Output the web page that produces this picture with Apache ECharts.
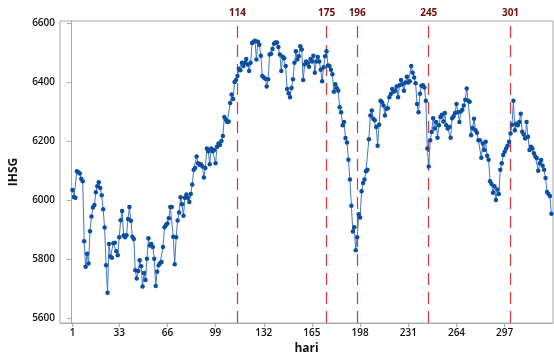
<!DOCTYPE html>
<html>
<head>
<meta charset="utf-8">
<script src="https://cdn.jsdelivr.net/npm/echarts@6/dist/echarts.min.js"></script>
<style>
  html, body { margin: 0; padding: 0; background: #fff; }
  #chart { width: 554px; height: 360px; }
</style>
</head>
<body>
<div id="chart"></div>
<script>
// Daily IHSG closing values, day 1 .. 329
const ihsgDays1to50 = [
  6034, 6010, 6007, 6097, 6094, 6090, 6072, 6063, 5860, 5773,
  5817, 5784, 5894, 5944, 5974, 5983, 6026, 6046, 6060, 6040,
  6016, 5968, 5906, 5778, 5685, 5850, 5808, 5804, 5853, 5855,
  5826, 5812, 5873, 5931, 5962, 5879, 5873, 5880, 5935, 5976,
  5929, 5875, 5867, 5761, 5733, 5759, 5795, 5775, 5706, 5752
];
const ihsgDays51to100 = [
  5728, 5800, 5870, 5845, 5850, 5840, 5800, 5708, 5756, 5778,
  5786, 5789, 5840, 5907, 5915, 5920, 5938, 5976, 5976, 5875,
  5782, 5873, 5930, 5957, 6009, 5985, 5946, 6007, 6018, 6007,
  5993, 6020, 6052, 6102, 6108, 6147, 6124, 6119, 6121, 6113,
  6076, 6108, 6174, 6165, 6121, 6174, 6165, 6169, 6124, 6180
];
const ihsgDays101to150 = [
  6191, 6186, 6200, 6217, 6281, 6273, 6264, 6266, 6329, 6358,
  6342, 6400, 6407, 6420, 6445, 6440, 6465, 6454, 6465, 6478,
  6459, 6437, 6465, 6532, 6537, 6540, 6476, 6537, 6526, 6489,
  6420, 6415, 6411, 6385, 6409, 6493, 6496, 6512, 6530, 6534,
  6534, 6519, 6493, 6437, 6486, 6481, 6454, 6376, 6362, 6348
];
const ihsgDays151to200 = [
  6380, 6409, 6465, 6504, 6476, 6487, 6521, 6510, 6407, 6459,
  6470, 6465, 6452, 6478, 6470, 6489, 6431, 6470, 6485, 6470,
  6442, 6403, 6450, 6487, 6504, 6456, 6454, 6442, 6426, 6367,
  6392, 6380, 6370, 6314, 6297, 6253, 6264, 6210, 6195, 6136,
  6069, 5980, 5893, 5907, 5829, 5873, 5951, 5940, 6029, 6057
];
const ihsgDays201to250 = [
  6069, 6097, 6102, 6206, 6286, 6303, 6275, 6270, 6247, 6184,
  6255, 6336, 6331, 6320, 6286, 6309, 6311, 6348, 6359, 6376,
  6367, 6370, 6385, 6348, 6389, 6407, 6392, 6370, 6398, 6418,
  6398, 6403, 6454, 6431, 6415, 6396, 6325, 6297, 6360, 6387,
  6389, 6381, 6336, 6174, 6113, 6202, 6230, 6277, 6242, 6264
];
const ihsgDays251to300 = [
  6211, 6253, 6281, 6289, 6266, 6295, 6253, 6242, 6247, 6211,
  6277, 6284, 6295, 6325, 6297, 6264, 6300, 6306, 6320, 6340,
  6378, 6336, 6333, 6219, 6244, 6275, 6236, 6228, 6202, 6202,
  6143, 6191, 6169, 6197, 6150, 6136, 6063, 6054, 6024, 6046,
  6000, 6035, 6020, 6102, 6124, 6152, 6163, 6174, 6184, 6197
];
const ihsgDays301to329 = [
  6225, 6255, 6336, 6236, 6258, 6253, 6264, 6292, 6231, 6222,
  6208, 6264, 6214, 6169, 6180, 6174, 6158, 6147, 6141, 6099,
  6124, 6135, 6116, 6102, 6074, 6027, 6020, 6013, 5953
];

// Days marked with vertical reference lines
const markedDays = [114, 175, 196, 245, 301];
// Axis tick positions
const dayTicks = [1, 33, 66, 99, 132, 165, 198, 231, 264, 297];
const ihsgTicks = [5600, 5800, 6000, 6200, 6400, 6600];

const ihsg = [].concat(ihsgDays1to50, ihsgDays51to100, ihsgDays101to150,
  ihsgDays151to200, ihsgDays201to250, ihsgDays251to300, ihsgDays301to329);
const seriesData = ihsg.map((v, i) => [i + 1, v]);

const labelFont = { fontFamily: 'Open Sans', fontWeight: 600, fontSize: 10, color: '#111' };

const chart = echarts.init(document.getElementById('chart'), null, { renderer: 'canvas' });
chart.setOption({
  animation: false,
  backgroundColor: '#fff',
  grid: {
    left: 60, right: 1, top: 21, bottom: 33,
    show: true, borderColor: '#a8a8a8', borderWidth: 1
  },
  xAxis: {
    type: 'value',
    min: -7.56,
    max: 330.1,
    name: 'hari',
    nameLocation: 'middle',
    nameGap: 18,
    nameTextStyle: { fontFamily: 'Open Sans', fontWeight: 700, fontSize: 12, color: '#111' },
    axisLine: { show: true, lineStyle: { color: '#a8a8a8' } },
    axisTick: { show: true, length: 4, customValues: dayTicks, lineStyle: { color: '#a8a8a8' } },
    axisLabel: Object.assign({ customValues: dayTicks, margin: 5, formatter: v => String(v) }, labelFont),
    splitLine: { show: false }
  },
  yAxis: {
    type: 'value',
    min: 5582,
    max: 6607,
    name: 'IHSG',
    nameLocation: 'middle',
    nameGap: 40,
    nameRotate: 90,
    nameTextStyle: { fontFamily: 'Open Sans', fontWeight: 700, fontSize: 12, color: '#111' },
    axisLine: { show: true, lineStyle: { color: '#a8a8a8' } },
    axisTick: { show: true, length: 4, customValues: ihsgTicks, lineStyle: { color: '#a8a8a8' } },
    axisLabel: Object.assign({ customValues: ihsgTicks, margin: 5, formatter: v => String(v) }, labelFont),
    splitLine: { show: false }
  },
  series: [{
    type: 'line',
    data: seriesData,
    symbol: 'circle',
    symbolSize: 4.5,
    showAllSymbol: true,
    lineStyle: { color: '#4079c0', width: 1 },
    itemStyle: { color: '#0c4fa2' },
    markLine: {
      silent: true,
      symbol: ['none', 'none'],
      z: 1,
      lineStyle: { color: '#d9363e', type: [12, 7], width: 1.2 },
      label: {
        show: true,
        position: 'end',
        distance: 3,
        formatter: p => String(p.value),
        fontFamily: 'Open Sans', fontWeight: 700, fontSize: 10, color: '#6e0d10'
      },
      data: markedDays.map(d => ({ xAxis: d }))
    }
  }]
});
</script>
</body>
</html>
